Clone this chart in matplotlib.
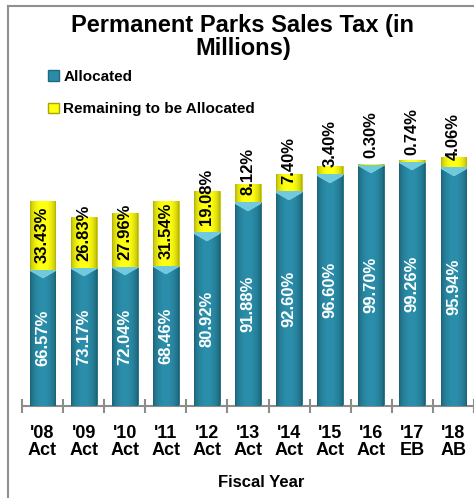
import numpy as np
import matplotlib.pyplot as plt
from matplotlib.patches import Patch
from matplotlib.lines import Line2D

plt.rcParams['font.family'] = ['Liberation Sans', 'DejaVu Sans']

# data
years = ["'08\nAct", "'09\nAct", "'10\nAct", "'11\nAct", "'12\nAct", "'13\nAct",
         "'14\nAct", "'15\nAct", "'16\nAct", "'17\nEB", "'18\nAB"]
totals = [20.5, 18.9, 19.3, 20.5, 21.5, 22.2, 23.2, 24.0, 24.2, 24.6, 24.9]  # $M, approx
alloc_pct = [66.57, 73.17, 72.04, 68.46, 80.92, 91.88, 92.60, 96.60, 99.70, 99.26, 95.94]
remain_pct = [33.43, 26.83, 27.96, 31.54, 19.08, 8.12, 7.40, 3.40, 0.30, 0.74, 4.06]

allocated = [t * p / 100 for t, p in zip(totals, alloc_pct)]
remaining = [t * p / 100 for t, p in zip(totals, remain_pct)]

blue = np.array([0x2A, 0x8C, 0xA8]) / 255
blue_light = np.array([0x78, 0xD4, 0xEA]) / 255
yellow = np.array([0xFF, 0xFF, 0x10]) / 255

fig = plt.figure(figsize=(4.74, 4.98), dpi=100)
ax = fig.add_axes([22 / 474, 92 / 498, 452 / 474, 346 / 498])
ymax = 34.6
px_per_unit = 346 / ymax

x = np.arange(len(years))
w = 0.63
bars_a = ax.bar(x, allocated, w, color=blue, edgecolor='#1d6a80', linewidth=0.6, zorder=2)
bars_r = ax.bar(x, remaining, w, bottom=allocated, color=yellow, edgecolor='#c8c800',
                linewidth=0.6, zorder=2)


def shade(patch, base, bevel=None):
    x0, y0 = patch.get_x(), patch.get_y()
    bw, bh = patch.get_width(), patch.get_height()
    rows = max(int(bh * px_per_unit), 2)
    cols = 30
    t = np.linspace(0, 1, cols)
    f = 0.70 + 0.32 * np.sin(np.pi * t) ** 0.6
    img = np.clip(base[None, None, :] * f[None, :, None], 0, 1)
    img = np.repeat(img, rows, axis=0)
    if bevel is not None:
        d = np.arange(rows)[:, None]
        depth = 2 + 7 * (1 - np.abs(2 * t - 1))[None, :]
        mask = d < depth
        img[mask] = bevel * 0.95
    im = ax.imshow(img, extent=(x0, x0 + bw, y0, y0 + bh), origin='upper',
                   aspect='auto', interpolation='bilinear', zorder=3)
    im.set_clip_path(patch)


for p in bars_a:
    shade(p, blue, blue_light)
for p in bars_r:
    shade(p, yellow)

# labels
for i in range(len(years)):
    ax.text(x[i], allocated[i] / 2, f"{alloc_pct[i]:.2f}%", rotation=90,
            ha='center', va='center', color='white', fontsize=12,
            fontweight='bold', zorder=5)
    ax.annotate(f"{remain_pct[i]:.2f}%", (x[i], allocated[i]), xytext=(0, 5),
                textcoords='offset points', rotation=90, ha='center', va='bottom',
                color='black', fontsize=12, fontweight='bold', zorder=5)

ax.set_xlim(-0.5, len(years) - 0.5)
ax.set_ylim(0, ymax)
for s in ['left', 'top', 'right']:
    ax.spines[s].set_visible(False)
ax.spines['bottom'].set_color('#8c8c8c')
ax.spines['bottom'].set_linewidth(1.5)
ax.set_yticks([])
ax.set_xticks(np.arange(-0.5, len(years), 1.0))
ax.set_xticklabels([])
ax.tick_params(axis='x', which='major', direction='inout', length=10,
               width=1.5, color='#8c8c8c')
ax.set_xticks(x, minor=True)
ax.set_xticklabels(years, minor=True, fontsize=13, fontweight='bold',
                   linespacing=1.0)
ax.tick_params(axis='x', which='minor', length=0, pad=14)
ax.set_xlabel('Fiscal Year', fontsize=12, fontweight='bold', labelpad=3)
ax.xaxis.set_label_coords(0.529, -0.2)

fig.text(243 / 474, 1 - 14 / 498, 'Permanent Parks Sales Tax (in\nMillions)',
         ha='center', va='top', fontsize=17, fontweight='bold', linespacing=1.0)

handles = [Patch(facecolor=blue, edgecolor='#1d6a80', label='Allocated'),
           Patch(facecolor=yellow, edgecolor='#a8a800', label='Remaining to be Allocated')]
fig.legend(handles=handles, loc='upper left', bbox_to_anchor=(48 / 474, 1 - 70 / 498),
           frameon=False, prop={'size': 11, 'weight': 'bold'}, handlelength=0.7,
           handleheight=0.7, handletextpad=0.3, labelspacing=1.2, borderpad=0,
           borderaxespad=0)

# slide frame
fig.add_artist(Line2D([8 / 474, 1], [1 - 6 / 498, 1 - 6 / 498], color='#909090', lw=1.5))
fig.add_artist(Line2D([8 / 474, 8 / 474], [0, 1 - 6 / 498], color='#909090', lw=1.5))

fig.savefig('out.png', dpi=100)
